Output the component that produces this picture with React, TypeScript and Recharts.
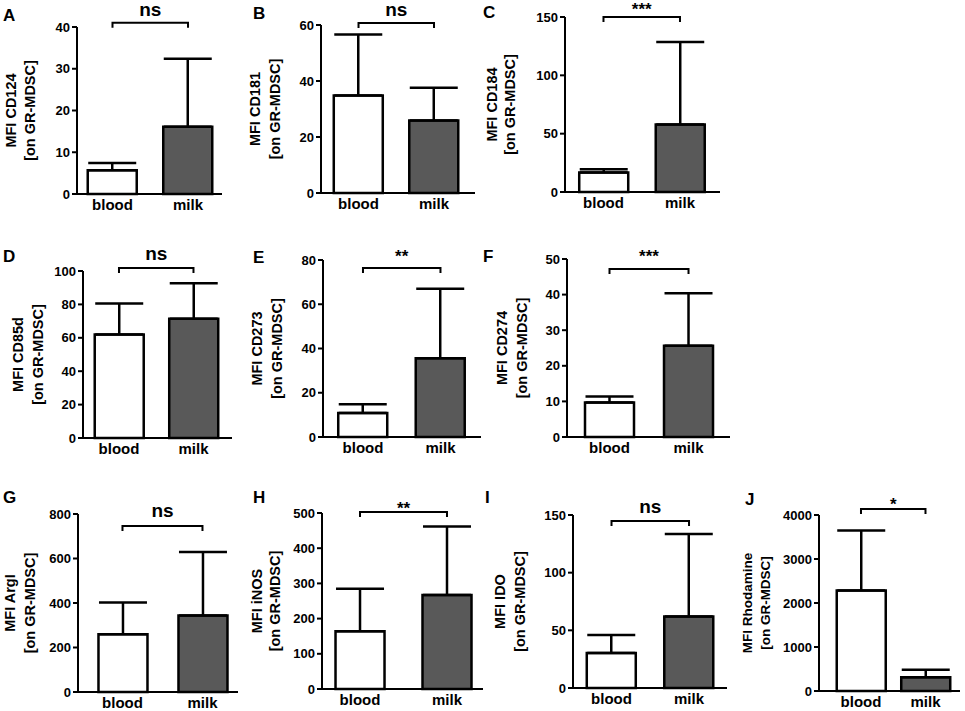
import React from 'react';
import { BarChart, Bar, XAxis, YAxis, ErrorBar, Cell, ReferenceLine } from 'recharts';

// ---------- data ----------
const categories = ['blood', 'milk'];
const panelLetters = ['A', 'B', 'C', 'D', 'E', 'F', 'G', 'H', 'I', 'J'];
const markers = ['CD124', 'CD181', 'CD184', 'CD85d', 'CD273', 'CD274', 'ArgI', 'iNOS', 'IDO', 'Rhodamine'];
const bloodMean = [5.7, 34.8, 16.7, 62, 10.9, 9.7, 259, 164, 30.3, 2285];
const bloodUpper = [7.4, 56.6, 19.6, 80.5, 14.8, 11.4, 402, 285, 46, 3645];
const milkMean = [16.1, 25.9, 57.8, 71.4, 35.6, 25.6, 344, 267, 62, 312];
const milkUpper = [32.4, 37.6, 128.6, 92.7, 67, 40.4, 629, 462, 133.5, 485];
const significance = ['ns', 'ns', '***', 'ns', '**', '***', 'ns', '**', 'ns', '*'];
const bracketLevel = [41, 60.7, 150, 101.8, 76.4, 47.2, 746, 503, 144.8, 4136];
const yTicks = [
  [0, 10, 20, 30, 40],
  [0, 20, 40, 60],
  [0, 50, 100, 150],
  [0, 20, 40, 60, 80, 100],
  [0, 20, 40, 60, 80],
  [0, 10, 20, 30, 40, 50],
  [0, 200, 400, 600, 800],
  [0, 100, 200, 300, 400, 500],
  [0, 50, 100, 150],
  [0, 1000, 2000, 3000, 4000],
];
const barFills = ['#ffffff', '#595959'];
const yLabelLine2 = '[on GR-MDSC]';

// ---------- layout (page pixel positions, styles) ----------
const layout = [
  { ax: 77, top: 27, zero: 194, xEnd: 222, lo: -0.47, hi: 1.45, lx: 3, ly: 21, l1: -66, l2: -47, sigDy: -7, lfs: 14.5 },
  { ax: 321, top: 25, zero: 193, xEnd: 475, lo: -0.497, hi: 1.543, lx: 253, ly: 19, l1: -66, l2: -46, sigDy: -7, lfs: 14.5 },
  { ax: 565, top: 17, zero: 192, xEnd: 720, lo: -0.503, hi: 1.523, lx: 483, ly: 18, l1: -73, l2: -55, sigDy: -2, lfs: 14.5 },
  { ax: 83, top: 271, zero: 438, xEnd: 232, lo: -0.483, hi: 1.517, lx: 3, ly: 262, l1: -65, l2: -45, sigDy: -8, lfs: 14.5 },
  { ax: 323, top: 260, zero: 437, xEnd: 481, lo: -0.516, hi: 1.523, lx: 253, ly: 263, l1: -66, l2: -46, sigDy: -6, lfs: 14.5 },
  { ax: 567, top: 259, zero: 437, xEnd: 730, lo: -0.538, hi: 1.525, lx: 483, ly: 262, l1: -65, l2: -45, sigDy: -7, lfs: 14.5 },
  { ax: 78, top: 514, zero: 692, xEnd: 238, lo: -0.556, hi: 1.444, lx: 3, ly: 503, l1: -68, l2: -48, sigDy: -9, lfs: 14.5 },
  { ax: 322, top: 513, zero: 689, xEnd: 483, lo: -0.437, hi: 1.414, lx: 253, ly: 503, l1: -65, l2: -47, sigDy: 2, lfs: 14.5 },
  { ax: 573, top: 515, zero: 688, xEnd: 727, lo: -0.497, hi: 1.49, lx: 485, ly: 503, l1: -73, l2: -53, sigDy: -8, lfs: 14.5 },
  { ax: 819, top: 515, zero: 691, xEnd: 960, lo: -0.651, hi: 1.535, lx: 745, ly: 505, l1: -72, l2: -54, sigDy: 1, lfs: 13.5 },
];

const FONT = '"Liberation Sans", Arial, Helvetica, sans-serif';
const YW = 80;
const MT = 30;
const MR = 2;
const XH = 25;

function Panel({ i }: { i: number }) {
  const L = layout[i];
  const data = [
    { pos: 0, value: bloodMean[i], err: [0, bloodUpper[i] - bloodMean[i]] },
    { pos: 1, value: milkMean[i], err: [0, milkUpper[i] - milkMean[i]] },
  ];
  const plotH = L.zero - L.top;
  const plotW = L.xEnd - L.ax;
  const width = YW + plotW + MR;
  const height = MT + plotH + XH;
  const ticks = yTicks[i];
  const yMax = ticks[ticks.length - 1];
  const cx1 = YW + L.l1;
  const cx2 = YW + L.l2;
  const cy = MT + plotH / 2;
  const sig = significance[i];
  const isNs = sig === 'ns';

  const yLabel = () => (
    <g>
      <text
        x={cx1}
        y={cy}
        transform={`rotate(-90 ${cx1} ${cy})`}
        textAnchor="middle"
        dy="0.35em"
        fontSize={L.lfs}
        fontWeight="bold"
        fontFamily={FONT}
        fill="#000"
      >
        {`MFI ${markers[i]}`}
      </text>
      <text
        x={cx2}
        y={cy}
        transform={`rotate(-90 ${cx2} ${cy})`}
        textAnchor="middle"
        dy="0.35em"
        fontSize={L.lfs}
        fontWeight="bold"
        fontFamily={FONT}
        fill="#000"
      >
        {yLabelLine2}
      </text>
    </g>
  );

  const bracket = (p: any) => {
    if (p == null || p.x1 == null) return <g />;
    const { x1, y1, x2, y2 } = p;
    return (
      <g>
        <path
          d={`M${x1},${y1 + 5}L${x1},${y1}L${x2},${y2}L${x2},${y2 + 5}`}
          fill="none"
          stroke="#000"
          strokeWidth={2}
        />
        <text
          x={(x1 + x2) / 2}
          y={y1 + L.sigDy}
          textAnchor="middle"
          fontSize={isNs ? 19 : 17}
          fontWeight="bold"
          fontFamily={FONT}
          fill="#000"
        >
          {sig}
        </text>
      </g>
    );
  };

  const xTick = (p: any) => (
    <text
      x={p.x}
      y={p.y + 16}
      textAnchor="middle"
      fontSize={15}
      fontWeight="bold"
      fontFamily={FONT}
      fill="#000"
    >
      {categories[p.payload.value]}
    </text>
  );

  const yTick = (p: any) => (
    <text
      x={p.x}
      y={p.y}
      dy="0.36em"
      textAnchor="end"
      fontSize={13}
      fontWeight="bold"
      fontFamily={FONT}
      fill="#000"
    >
      {p.payload.value}
    </text>
  );

  return (
    <div style={{ position: 'absolute', left: L.ax - YW, top: L.top - MT, width, height }}>
      <BarChart width={width} height={height} data={data} margin={{ top: MT, right: MR, bottom: 0, left: 0 }}>
        <XAxis
          type="number"
          dataKey="pos"
          domain={[L.lo, L.hi]}
          allowDataOverflow
          ticks={[0, 1]}
          interval={0}
          tickLine={false}
          tickSize={0}
          tickMargin={0}
          height={XH}
          axisLine={{ stroke: '#000', strokeWidth: 2 }}
          tick={xTick}
        />
        <YAxis
          type="number"
          domain={[0, yMax]}
          ticks={ticks}
          interval={0}
          width={YW}
          tickSize={5}
          tickMargin={2}
          axisLine={{ stroke: '#000', strokeWidth: 2 }}
          tickLine={{ stroke: '#000', strokeWidth: 2 }}
          tick={yTick}
          label={{ content: yLabel }}
        />
        <Bar dataKey="value" barSize={49} stroke="#000" strokeWidth={2.5} isAnimationActive={false}>
          {data.map((d, k) => (
            <Cell key={k} fill={barFills[k]} />
          ))}
          <ErrorBar dataKey="err" direction="y" width={24} stroke="#000" strokeWidth={2.5} isAnimationActive={false} />
        </Bar>
        <ReferenceLine
          segment={[
            { x: 0, y: bracketLevel[i] },
            { x: 1, y: bracketLevel[i] },
          ]}
          ifOverflow="visible"
          shape={bracket}
        />
      </BarChart>
    </div>
  );
}

export default function App() {
  return (
    <div
      style={{
        position: 'absolute',
        left: 0,
        top: 0,
        width: 965,
        height: 711,
        background: '#fff',
        overflow: 'hidden',
        fontFamily: FONT,
      }}
    >
      {layout.map((_, i) => (
        <Panel key={i} i={i} />
      ))}
      <svg width={965} height={711} style={{ position: 'absolute', left: 0, top: 0, pointerEvents: 'none' }}>
        {layout.map((L, i) => (
          <text key={i} x={L.lx} y={L.ly} fontSize={17} fontWeight="bold" fontFamily={FONT} fill="#000">
            {panelLetters[i]}
          </text>
        ))}
      </svg>
    </div>
  );
}
